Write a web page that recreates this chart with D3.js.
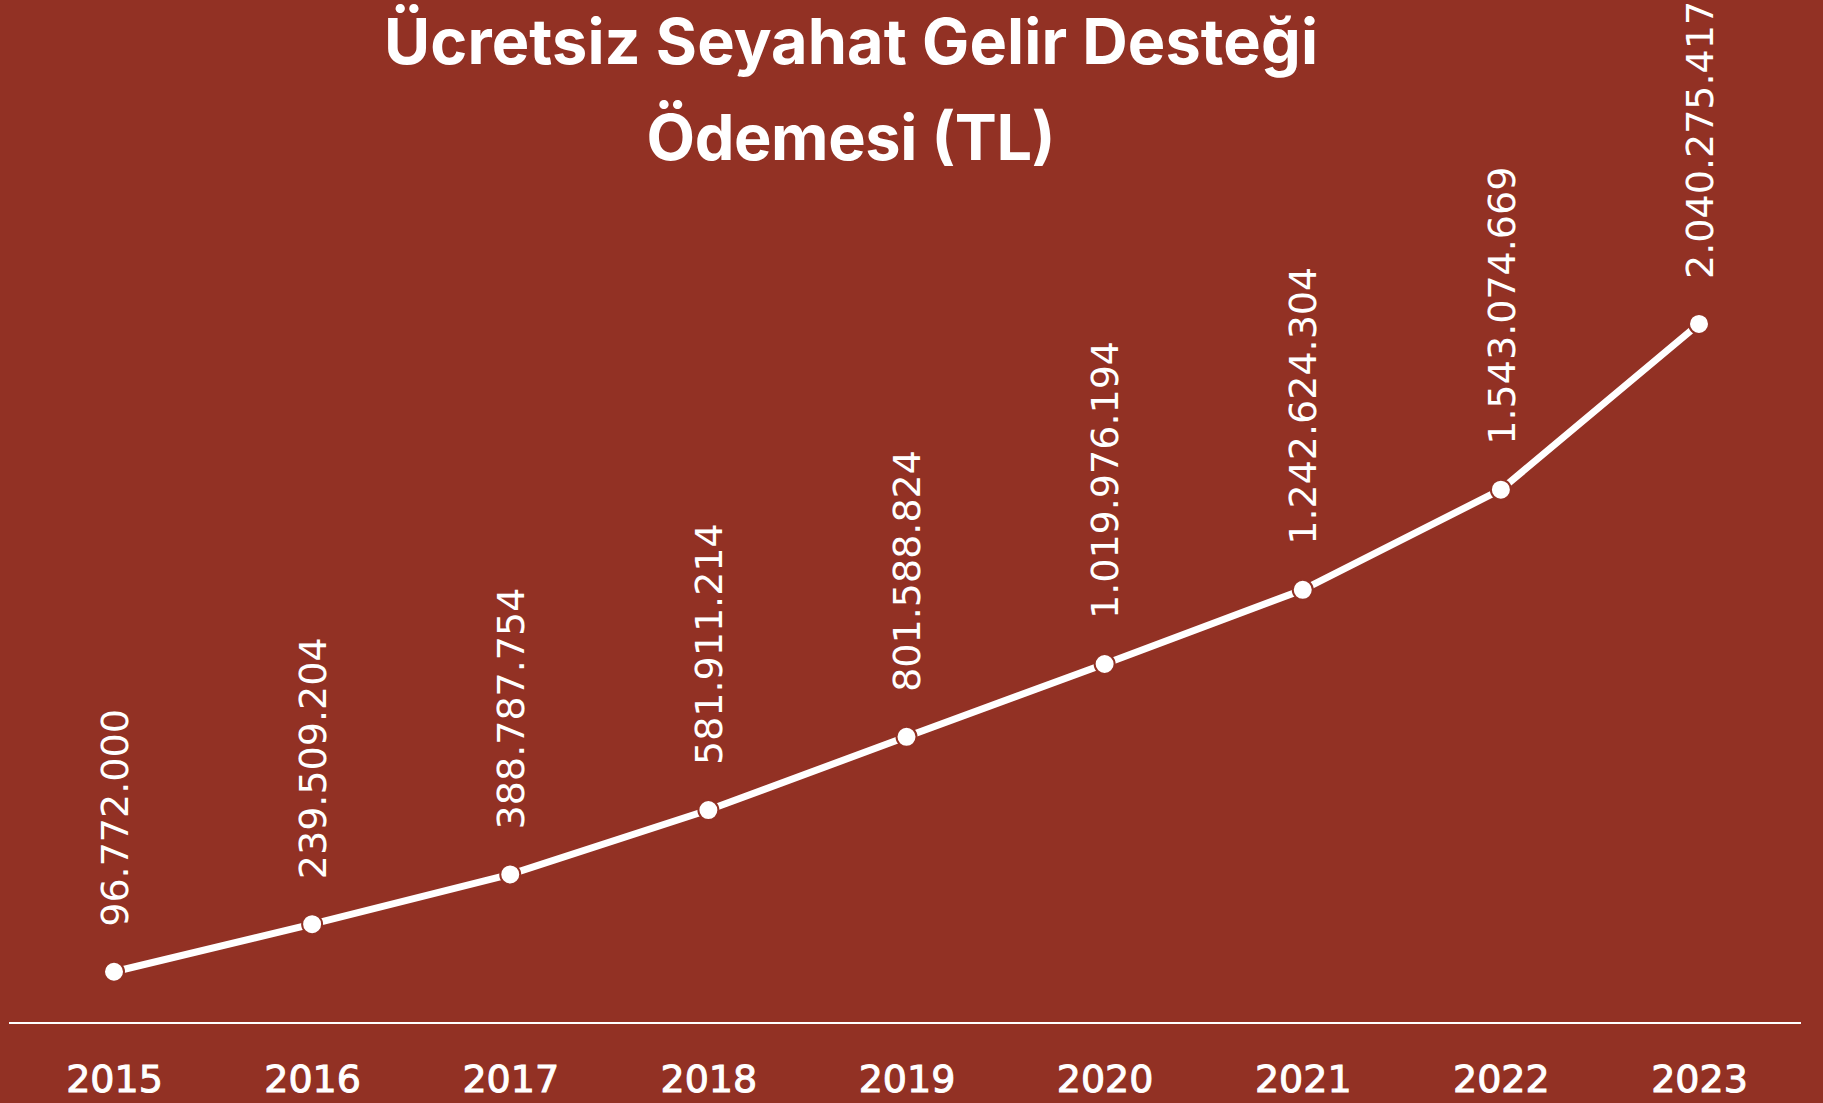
<!DOCTYPE html>
<html lang="tr">
<head>
    <meta charset="UTF-8">
    <title>Ücretsiz Seyahat Gelir Desteği Ödemesi (TL)</title>
    <script src="https://cdn.jsdelivr.net/npm/d3@7"></script>
    <style>
        body { margin: 0; background: #923124; }
        svg { display: block; }
    </style>
</head>
<body>
<script>
    // data
    const years = ["2015", "2016", "2017", "2018", "2019", "2020", "2021", "2022", "2023"];
    const payments = [96772000, 239509204, 388787754, 581911214, 801588824, 1019976194, 1242624304, 1543074669, 2040275417];
    const titleLines = ["Ücretsiz Seyahat Gelir Desteği", "Ödemesi (TL)"];

    const width = 1823;
    const height = 1103;
    const bg = "#923124";

    const svg = d3.select("body")
        .append("svg")
        .attr("width", width)
        .attr("height", height)
        .style("background-color", bg);

    const x = d3.scalePoint()
        .domain(years)
        .range([114, 1699]);

    const y = d3.scaleLinear()
        .domain([0, 2100000000])
        .range([1004, 304]);

    // turkish style thousands separator
    const fmt = d3.formatLocale({ decimal: ",", thousands: ".", grouping: [3], currency: ["", " TL"] }).format(",d");

    // title
    svg.selectAll(".title")
        .data(titleLines)
        .enter().append("text")
        .attr("class", "title")
        .attr("x", 851)
        .attr("y", (d, i) => 64 + i * 96)
        .attr("text-anchor", "middle")
        .attr("textLength", (d, i) => i == 0 ? 934 : 409)
        .attr("lengthAdjust", "spacing")
        .style("font-family", "Inter, 'Liberation Sans', sans-serif")
        .style("font-weight", 700)
        .style("font-size", "63px")
        .style("fill", "#fff")
        .text(d => d);

    // baseline
    svg.append("line")
        .attr("x1", 9)
        .attr("x2", 1801)
        .attr("y1", 1023)
        .attr("y2", 1023)
        .attr("stroke", "#fff")
        .attr("stroke-width", 2);

    // x axis labels
    const xAxis = svg.append("g")
        .attr("transform", "translate(0,1092)")
        .call(d3.axisBottom(x).tickSize(0).tickPadding(0));
    xAxis.select(".domain").remove();
    xAxis.selectAll("text")
        .attr("dy", 0)
        .style("font-family", "'DejaVu Sans', sans-serif")
        .style("font-size", "38px")
        .style("fill", "#fff")
        .style("stroke", "#fff")
        .style("stroke-width", 1);

    const data = years.map((d, i) => ({ year: d, value: payments[i] }));

    const line = d3.line()
        .x(d => x(d.year))
        .y(d => y(d.value));

    svg.append("path")
        .datum(data)
        .attr("d", line)
        .attr("fill", "none")
        .attr("stroke", "#fff")
        .attr("stroke-width", 7);

    svg.selectAll(".dot")
        .data(data)
        .enter().append("circle")
        .attr("class", "dot")
        .attr("cx", d => x(d.year))
        .attr("cy", d => y(d.value))
        .attr("r", 10)
        .attr("fill", "#fff")
        .attr("stroke", bg)
        .attr("stroke-width", 2);

    // value labels, rotated
    svg.selectAll(".val")
        .data(data)
        .enter().append("text")
        .attr("class", "val")
        .attr("transform", d => `translate(${x(d.year)},${y(d.value) - 45}) rotate(-90)`)
        .attr("dy", "0.36em")
        .style("font-family", "'DejaVu Sans', sans-serif")
        .style("font-size", "38px")
        .style("fill", "#fff")
        .text(d => fmt(d.value));
</script>
</body>
</html>
